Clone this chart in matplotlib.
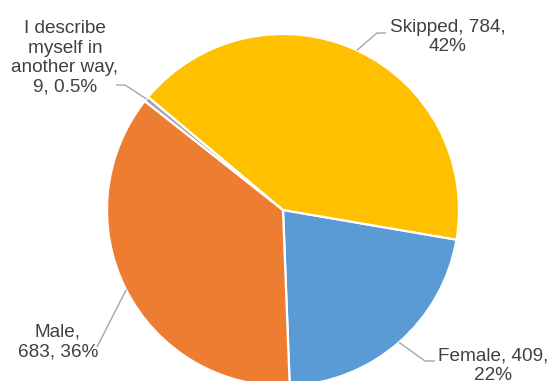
import numpy as np
import matplotlib
matplotlib.use("Agg")
import matplotlib.pyplot as plt

categories = ["Female", "Male", "I describe\nmyself in\nanother way,", "Skipped"]
values = [409, 683, 9, 784]
pct_labels = ["22%", "36%", "0.5%", "42%"]
colors = ["#5B9BD5", "#ED7D31", "#A5A5A5", "#FFC000"]

W, H = 552, 381
fig = plt.figure(figsize=(W / 100, H / 100), dpi=100)
ax = fig.add_axes([0, 0, 1, 1])

cx, cy, r = 283, H - 210, 176
wedges, _ = ax.pie(values, colors=colors, startangle=-9.7, counterclock=False,
                   center=(cx, cy), radius=r,
                   wedgeprops=dict(edgecolor="white", linewidth=1.6))
ax.set_xlim(0, W)
ax.set_ylim(0, H)
ax.set_aspect("equal")
ax.axis("off")

label_texts = [f"{c}, {v},\n{p}" if i == 0 else
               (f"{c},\n{v}, {p}" if i == 1 else
                (f"{c}\n{v}, {p}" if i == 2 else f"{c}, {v},\n{p}"))
               for i, (c, v, p) in enumerate(zip(categories, values, pct_labels))]
# label block centers (pixels from top-left) and leader elbow points
label_pos = [(493, 366), (58, 342), (65, 58), (448, 37)]
elbows = [[(425, 361), (435, 361)],
          [(97, 347)],
          [(125, 85), (116, 85)],
          [(377, 33), (386, 33)]]

txtkw = dict(fontsize=13.7, color="#404040", family=["Liberation Sans", "DejaVu Sans"],
             ha="center", va="center", linespacing=1.2)
for w, txt, pos, elb in zip(wedges, label_texts, label_pos, elbows):
    mid = np.deg2rad((w.theta1 + w.theta2) / 2)
    sx, sy = cx + r * np.cos(mid), cy + r * np.sin(mid)
    xs = [sx] + [p[0] for p in elb]
    ys = [sy] + [H - p[1] for p in elb]
    ax.plot(xs, ys, color="#A6A6A6", lw=1.0, solid_capstyle="butt")
    ax.text(pos[0], H - pos[1], txt, **txtkw)

fig.savefig("out.png", dpi=100)
